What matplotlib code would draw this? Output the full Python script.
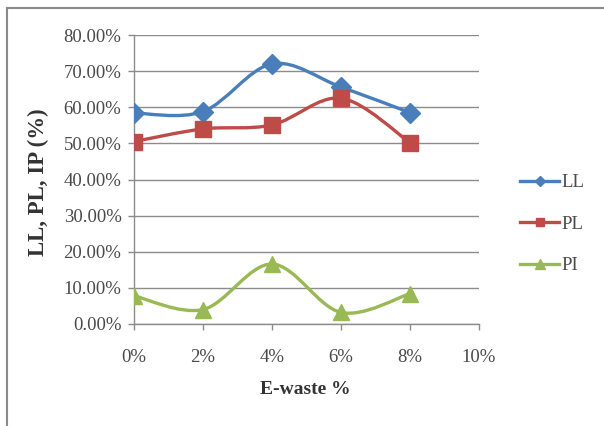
import matplotlib
matplotlib.use("Agg")
import matplotlib.pyplot as plt
from matplotlib.path import Path
from matplotlib.patches import PathPatch
from matplotlib.lines import Line2D
from matplotlib.ticker import FuncFormatter
import numpy as np

# ---- data ----
ewaste = [0, 2, 4, 6, 8]                  # E-waste %
LL = [58.4, 58.8, 72.0, 65.6, 58.5]        # Liquid limit %
PL = [50.5, 54.0, 55.1, 62.5, 50.2]        # Plastic limit %
PI = [7.8, 4.0, 16.6, 3.2, 8.4]            # Plasticity index %
series_names = ["LL", "PL", "PI"]
x_ticks = [0, 2, 4, 6, 8, 10]
y_ticks = [0, 10, 20, 30, 40, 50, 60, 70, 80]

colors = {"LL": "#4A7EBB", "PL": "#BE4B48", "PI": "#98B954"}
markers = {"LL": "D", "PL": "s", "PI": "^"}
msizes = {"LL": 10, "PL": 11, "PI": 12}

plt.rcParams['font.family'] = ['Liberation Serif', 'DejaVu Serif']

W, H = 604, 426
fig = plt.figure(figsize=(W / 100, H / 100), dpi=100)
fig.patch.set_facecolor("white")

L, R, T, B = 134, 479, 35, 324
ax = fig.add_axes([L / W, 1 - B / H, (R - L) / W, (B - T) / H])


def smooth_path(xs, ys):
    pts = np.column_stack([xs, ys]).astype(float)
    n = len(pts)
    verts = [pts[0]]
    codes = [Path.MOVETO]
    for i in range(n - 1):
        p0 = pts[i - 1] if i > 0 else pts[i]
        p1 = pts[i]
        p2 = pts[i + 1]
        p3 = pts[i + 2] if i + 2 < n else pts[i + 1]
        c1 = p1 + (p2 - p0) / 6.0
        c2 = p2 - (p3 - p1) / 6.0
        verts += [c1, c2, p2]
        codes += [Path.CURVE4] * 3
    return Path(verts, codes)


data = {"LL": LL, "PL": PL, "PI": PI}
handles = []
for name in series_names:
    ys = data[name]
    c = colors[name]
    patch = PathPatch(smooth_path(ewaste, ys), facecolor="none", edgecolor=c,
                      lw=2.4, transform=ax.transData, zorder=3, capstyle="round",
                      joinstyle="round")
    ax.add_patch(patch)
    ax.plot(ewaste, ys, linestyle="none", marker=markers[name], ms=msizes[name],
            color=c, markeredgecolor=c, zorder=4)
    handles.append(Line2D([], [], color=c, lw=2.4, marker=markers[name],
                          ms=msizes[name] * 0.55, markeredgecolor=c))

ax.set_xlim(0, 10)
ax.set_ylim(0, 80)
ax.set_xticks(x_ticks)
ax.set_yticks(y_ticks)
ax.xaxis.set_major_formatter(FuncFormatter(lambda v, p: f"{v:.0f}%"))
ax.yaxis.set_major_formatter(FuncFormatter(lambda v, p: f"{v:.2f}%"))

ax.grid(axis="y", color="#8C8C8C", lw=1.0)
ax.set_axisbelow(True)
for s in ["top", "right"]:
    ax.spines[s].set_visible(False)
for s in ["left", "bottom"]:
    ax.spines[s].set_color("#8C8C8C")
    ax.spines[s].set_linewidth(1.0)
ax.tick_params(axis="both", direction="out", length=4, width=1.0, color="#8C8C8C",
               labelsize=13.5, labelcolor="#4A4A4A", pad=5)
ax.tick_params(axis="x", pad=14)

fig.text(305 / W, 1 - 390 / H, "E-waste %", ha="center", va="center",
         fontsize=14, fontweight="bold", color="#333333")
fig.text(38 / W, 1 - 182 / H, "LL, PL, IP (%)", ha="center", va="center",
         rotation=90, fontsize=16.5, fontweight="bold", color="#333333")

leg = fig.legend(handles, series_names, loc="upper left",
                 bbox_to_anchor=(520 / W, 1 - 174 / H), frameon=False,
                 fontsize=13.5, handlelength=2.1, handletextpad=0.1,
                 labelspacing=1.3, borderpad=0, borderaxespad=0)
for t in leg.get_texts():
    t.set_color("#4A4A4A")

# outer chart frame
fig.add_artist(Line2D([7 / W, 7 / W], [0, 1 - 8 / H], transform=fig.transFigure,
                      color="#8A8A8A", lw=1.5))
fig.add_artist(Line2D([7 / W, 1], [1 - 8 / H, 1 - 8 / H], transform=fig.transFigure,
                      color="#8A8A8A", lw=1.5))

fig.savefig("out.png", dpi=100, facecolor="white")
